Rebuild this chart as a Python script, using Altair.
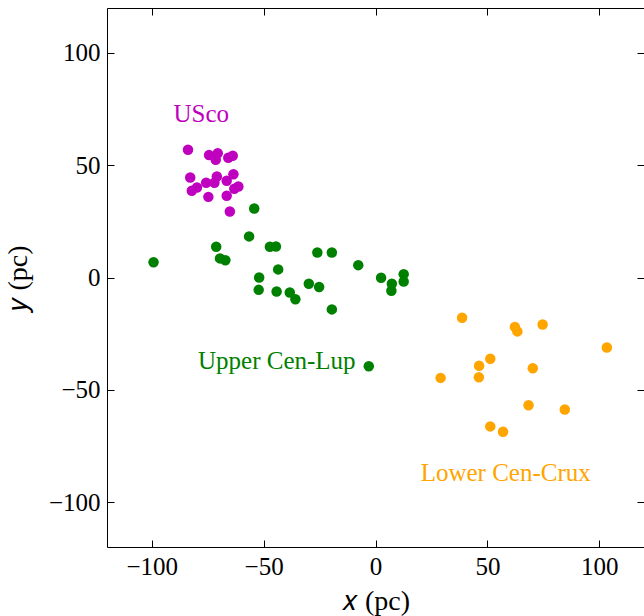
import altair as alt
import pandas as pd

# ---- data ----
usco_x = [-83.8, -74.4, -70.5, -71.4, -65.8, -63.8, -82.8, -70.9, -63.5, -75.7,
          -72.0, -66.5, -82.1, -79.8, -74.7, -66.5, -63.1, -61.3, -65.1]
usco_y = [56.9, 54.5, 55.3, 52.4, 53.3, 54.2, 44.5, 45.0, 46.0, 42.2,
          42.2, 43.1, 38.6, 40.1, 35.9, 36.4, 39.5, 40.5, 29.4]

ucl_x = [-54.2, -56.5, -71.2, -47.2, -44.5, -99.2, -69.5, -67.1, -43.5, -52.0,
         -52.2, -44.2, -38.3, -35.8, -26.0, -19.5, -7.7, -29.8, -25.2, -19.5,
         2.5, 7.3, 7.1, 12.6, 12.6, -3.0]
ucl_y = [30.7, 18.3, 13.7, 13.7, 13.8, 6.8, 8.5, 7.7, 3.6, 0.0,
         -5.5, -6.2, -6.7, -9.7, 11.1, 11.1, 5.5, -2.8, -4.2, -14.2,
         -0.1, -2.8, -5.9, 1.5, -1.8, -39.5]

lcc_x = [38.7, 62.3, 63.4, 74.7, 103.4, 51.3, 46.3, 70.3, 29.1, 46.2,
         68.4, 84.6, 51.3, 57.0]
lcc_y = [-17.9, -22.0, -24.0, -20.9, -31.2, -36.2, -39.3, -40.4, -44.7, -44.4,
         -56.9, -58.8, -66.3, -68.7]

groups = ["USco", "Upper Cen-Lup", "Lower Cen-Crux"]
colors = ["#bf00bf", "#008000", "#ffa500"]

label_x = [-77.9, -44.1, 58.2]
label_y = [73.0, -37.4, -87.1]

ticks = [-100, -50, 0, 50, 100]

# ---- tables ----
pts = pd.concat([
    pd.DataFrame({"x": usco_x, "y": usco_y, "group": "USco"}),
    pd.DataFrame({"x": ucl_x, "y": ucl_y, "group": "Upper Cen-Lup"}),
    pd.DataFrame({"x": lcc_x, "y": lcc_y, "group": "Lower Cen-Crux"}),
], ignore_index=True)
labels = pd.DataFrame({"x": label_x, "y": label_y, "group": groups})

FONT = "Liberation Serif"
color = alt.Color("group:N", scale=alt.Scale(domain=groups, range=colors), legend=None)
xs = alt.Scale(domain=[-120, 120], nice=False, zero=False)
ys = alt.Scale(domain=[-120, 120], nice=False, zero=False)

common_axis = dict(values=ticks, domain=False, grid=False, tickSize=7, offset=-7,
                   tickColor="black", tickWidth=1, labelFont=FONT, labelFontSize=25,
                   labelColor="black", labelPadding=7, titleFont=FONT,
                   titleFontSize=28, titleFontWeight="normal", titleColor="black")

points = alt.Chart(pts).mark_circle(size=110, opacity=1).encode(
    x=alt.X("x:Q", scale=xs,
            axis=alt.Axis(orient="bottom", title="𝑥 (pc)", titlePadding=8, **common_axis)),
    y=alt.Y("y:Q", scale=ys,
            axis=alt.Axis(orient="left", title="𝑦 (pc)", titlePadding=16, **common_axis)),
    color=color,
)

text = alt.Chart(labels).mark_text(font=FONT, fontSize=25).encode(
    x=alt.X("x:Q", scale=xs,
            axis=alt.Axis(orient="top", values=ticks, labels=False, title=None, domain=False,
                          grid=False, tickSize=7, offset=-7, tickColor="black")),
    y=alt.Y("y:Q", scale=ys,
            axis=alt.Axis(orient="right", values=ticks, labels=False, title=None, domain=False,
                          grid=False, tickSize=7, offset=-7, tickColor="black")),
    text="group:N",
    color=color,
)

chart = alt.layer(points, text).resolve_axis(x="independent", y="independent").properties(
    width=537, height=539,
    autosize=alt.AutoSizeParams(type="none"),
    padding={"left": 107, "top": 8, "right": 0, "bottom": 69},
).configure_view(stroke="black", strokeWidth=1)

chart.save("out.html", embed_options={"renderer": "svg", "actions": False})
